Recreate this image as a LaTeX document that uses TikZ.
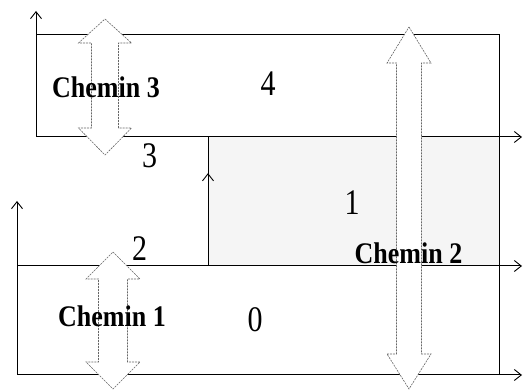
\documentclass[tikz,border=0pt]{standalone}
\usepackage{fontspec}
\setmainfont{Liberation Serif}
\usetikzlibrary{arrows.meta,decorations.markings}
\tikzset{
  wall/.style={line width=1pt, black},
  axis/.style={wall, -{Straight Barb[length=7pt,width=11pt,line width=0.9pt]}},
  zone/.style={fill=gray!8, draw=none},
  blockarr/.style={draw=black!60, fill=white, dash pattern=on 2pt off 1pt, line width=0.6pt},
  num/.style={inner sep=0pt, font=\fontsize{30}{30}\selectfont},
  chem/.style={inner sep=0pt, font=\fontsize{26}{26}\selectfont\bfseries},
  midup/.style={postaction={decorate}, decoration={markings, mark=at position 0.72 with {\arrow{Straight Barb[length=7pt,width=11pt,line width=0.9pt]}}}}
}
% #1 centre x, #2 top tip y, #3 bottom tip y, #4 shaft half width, #5 head half width, #6 top head length, #7 bottom head length
\newcommand\dblblock[7]{%
  \path[blockarr] (#1,#2) -- (#1+#5,#2+#6) -- (#1+#4,#2+#6) -- (#1+#4,#3-#7) -- (#1+#5,#3-#7)
    -- (#1,#3) -- (#1-#5,#3-#7) -- (#1-#4,#3-#7) -- (#1-#4,#2+#6) -- (#1-#5,#2+#6) -- cycle;}
\begin{document}
\begin{tikzpicture}[x=1pt,y=-1pt]
\useasboundingbox (0,0) rectangle (523,390);
% shaded zone 1
\fill[zone] (208,137) rectangle (499,266);
% coordinates
\coordinate (UL) at (36,35);
\coordinate (UR) at (499,35);
\coordinate (ULb) at (36,137);
\coordinate (URb) at (499,137);
\coordinate (Utop) at (36,11);
\coordinate (Uend) at (522,137);
\coordinate (LL) at (17,266);
\coordinate (LR) at (499,266);
\coordinate (LLb) at (17,375);
\coordinate (LRb) at (499,375);
\coordinate (Ltop) at (17,201);
\coordinate (Mend) at (522,266);
\coordinate (Bend) at (522,375);
\coordinate (Vb) at (208,266);
\coordinate (Vt) at (208,137);
% walls
\draw[wall] (ULb) -- (UL) -- (UR) -- (LRb) -- (LLb) -- (LL);
\draw[axis] (ULb) -- (Utop);
\draw[axis] (ULb) -- (Uend);
\draw[axis] (LLb) -- (Ltop);
\draw[axis] (LL) -- (Mend);
\draw[axis] (LLb) -- (Bend);
\draw[wall, midup] (Vb) -- (Vt);
% block double arrows
\dblblock{105}{19}{155}{13.5}{26.5}{24}{27}
\dblblock{113}{252}{389}{14.5}{27}{27}{27}
\dblblock{409}{27}{389}{12.5}{22}{36}{35}
% labels
\node[num] (n4) at (268,84) {\scalebox{1}[1.2]{4}};
\node[num] (n3) at (149.5,155.5) {\scalebox{1}[1.2]{3}};
\node[num] (n1) at (352,203) {\scalebox{1}[1.2]{1}};
\node[num] (n2) at (139.5,248.5) {\scalebox{1}[1.2]{2}};
\node[num] (n0) at (255,320) {\scalebox{1}[1.2]{0}};
\node[chem] (c3) at (106,87) {\scalebox{1}[1.15]{Chemin 3}};
\node[chem] (c1) at (112,316) {\scalebox{1}[1.15]{Chemin 1}};
\node[chem] (c2) at (408.5,253) {\scalebox{1}[1.15]{Chemin 2}};
\end{tikzpicture}
\end{document}
